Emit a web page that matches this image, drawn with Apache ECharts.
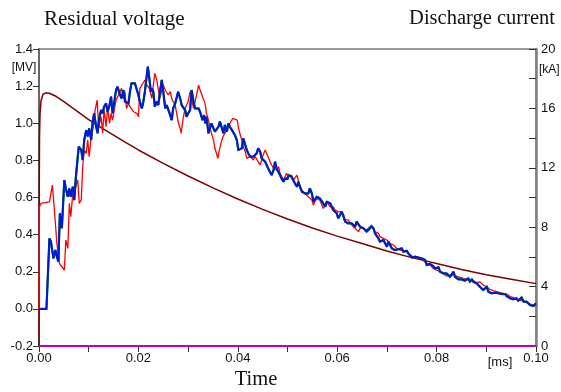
<!DOCTYPE html>
<html>
<head>
<meta charset="utf-8">
<script src="https://cdn.jsdelivr.net/npm/echarts@6/dist/echarts.min.js"></script>
<style>html,body{margin:0;padding:0;background:#fff}#c{width:561px;height:392px}</style>
</head>
<body>
<div id="c"></div>
<script>
// Residual voltage trace 1 (red), [time ms, MV]
var redPts = [[0,0],[0.0001,0.55],[0.0004,0.568],[0.0021,0.577],[0.0024,0.568],[0.0027,0.667],[0.0031,0.532],[0.0036,0.353],[0.0041,0.245],[0.0046,0.227],[0.0051,0.209],[0.0054,0.371],[0.0058,0.326],[0.0061,0.568],[0.0064,0.497],[0.0068,0.622],[0.0073,0.649],[0.0078,0.694],[0.0081,0.568],[0.0085,0.586],[0.0088,0.766],[0.0091,0.856],[0.0095,0.838],[0.0098,0.910],[0.0101,0.820],[0.0105,0.928],[0.0109,0.981],[0.0113,1.071],[0.0117,1.125],[0.0120,0.981],[0.0125,1.035],[0.0128,0.946],[0.0131,1.071],[0.0135,0.981],[0.0138,1.089],[0.0142,0.999],[0.0145,1.053],[0.0148,1.017],[0.0155,1.125],[0.0162,1.161],
[0.0166,1.188],[0.0170,1.134],[0.0173,1.170],[0.0176,1.080],[0.0180,1.107],[0.0183,1.089],[0.0186,1.098],[0.0190,1.062],[0.0193,1.071],[0.0197,1.053],[0.0200,1.035],[0.0203,1.188],[0.0207,1.206],[0.0210,1.197],[0.0213,1.233],[0.0217,1.206],[0.0222,1.188],[0.0227,1.134],[0.0230,1.206],[0.0233,1.269],[0.0237,1.233],[0.0240,1.224],[0.0243,1.134],[0.0247,1.179],[0.0250,1.206],[0.0254,1.179],[0.0257,1.170],[0.0260,1.152],[0.0264,1.170],[0.0267,1.134],[0.0270,1.116],[0.0274,1.098],[0.0277,1.053],[0.0280,1.008],[0.0284,0.972],[0.0286,0.946],[0.0290,1.026],[0.0294,1.080],[0.0297,1.098],[0.0300,1.116],[0.0304,1.170],[0.0307,1.170],[0.0311,1.080],[0.0314,1.071],[0.0317,1.152],[0.0321,1.206],[0.0324,1.180],
[0.0329,1.143],[0.0334,1.107],[0.0337,1.053],[0.0341,1.017],[0.0344,0.981],[0.0347,0.946],[0.0351,0.910],[0.0354,0.865],[0.0358,0.829],[0.0360,0.811],[0.0363,0.856],[0.0366,0.892],[0.0369,0.919],[0.0372,0.937],[0.0376,0.955],[0.0381,0.981],[0.0386,1.009],[0.0390,1.026],[0.0394,1.026],[0.0399,1.017],[0.0401,0.981],[0.0404,0.946],[0.0408,0.910],[0.0411,0.874],[0.0415,0.847],[0.0418,0.811],[0.0421,0.802],[0.0425,0.820],[0.0428,0.811],[0.0431,0.802],[0.0435,0.820],[0.0438,0.811],[0.0441,0.793],[0.0445,0.775],[0.0448,0.802],[0.0451,0.829],[0.0455,0.856],[0.0458,0.847],[0.0461,0.820],[0.0465,0.793],[0.0468,0.775],[0.0472,0.757],[0.0475,0.766],[0.0478,0.748],[0.0482,0.766],[0.0485,0.730],
[0.0488,0.730],[0.0492,0.694],[0.0495,0.712],[0.0498,0.730],[0.0502,0.712],[0.0505,0.703],[0.0508,0.721],[0.0512,0.694],[0.0515,0.703],[0.0519,0.721],[0.0522,0.712],[0.0525,0.658],[0.0529,0.640],[0.0532,0.640],[0.0535,0.622],[0.0539,0.613],[0.0542,0.604],[0.0545,0.595],[0.0549,0.586],[0.0552,0.559],[0.0555,0.577],[0.0559,0.595],[0.0562,0.604],[0.0565,0.586],[0.0569,0.577],[0.0572,0.541],[0.0576,0.559],[0.0579,0.577],[0.0582,0.568],[0.0586,0.550],[0.0589,0.559],[0.0592,0.550],[0.0596,0.532],[0.0599,0.541],[0.0602,0.523],[0.0606,0.532],[0.0609,0.523],[0.0612,0.497],[0.0616,0.479],[0.0619,0.470],[0.0622,0.479],[0.0626,0.470],[0.0629,0.452],[0.0633,0.443],[0.0636,0.434],[0.0639,0.425],[0.0643,0.416],[0.0646,0.434],[0.0649,0.425],[0.0653,0.434],
[0.0656,0.434],[0.0659,0.425],[0.0663,0.425],[0.0666,0.443],[0.0669,0.452],[0.0673,0.434],[0.0676,0.416],[0.0679,0.416],[0.0683,0.407],[0.0686,0.389],[0.0690,0.389],[0.0693,0.380],[0.0696,0.380],[0.0700,0.371],[0.0703,0.362],[0.0706,0.353],[0.0710,0.353],[0.0713,0.344],[0.0716,0.335],[0.0720,0.326],[0.0723,0.317],[0.0726,0.317],[0.0730,0.317],[0.0733,0.313],[0.0736,0.317],[0.0740,0.308],[0.0743,0.299],[0.0747,0.290],[0.0750,0.285],[0.0753,0.281],[0.0757,0.277],[0.0760,0.272],[0.0763,0.267],[0.0767,0.272],[0.0770,0.267],[0.0773,0.260],[0.0777,0.254],[0.0780,0.245],[0.0783,0.236],[0.0787,0.236],[0.0790,0.227],[0.0793,0.218],[0.0797,0.209],[0.0800,0.209],[0.0804,0.206],[0.0807,0.200],[0.0810,0.191],[0.0814,0.188],[0.0817,0.182],[0.0820,0.177],[0.0824,0.173],
[0.0827,0.182],[0.0830,0.177],[0.0834,0.182],[0.0837,0.182],[0.0840,0.177],[0.0844,0.173],[0.0847,0.170],[0.0850,0.170],[0.0854,0.164],[0.0857,0.159],[0.0861,0.159],[0.0864,0.155],[0.0867,0.155],[0.0871,0.159],[0.0874,0.152],[0.0877,0.146],[0.0881,0.141],[0.0884,0.141],[0.0887,0.146],[0.0891,0.137],[0.0894,0.128],[0.0897,0.128],[0.0901,0.119],[0.0904,0.111],[0.0907,0.105],[0.0911,0.102],[0.0914,0.098],[0.0918,0.093],[0.0921,0.093],[0.0924,0.089],[0.0928,0.087],[0.0931,0.084],[0.0934,0.084],[0.0938,0.087],[0.0941,0.080],[0.0944,0.075],[0.0948,0.066],[0.0951,0.057],[0.0954,0.062],[0.0958,0.057],[0.0961,0.051],[0.0964,0.048],[0.0968,0.044],[0.0971,0.048],[0.0975,0.044],[0.0978,0.039],[0.0981,0.033],[0.0985,0.030],[0.0988,0.026],[0.0991,0.030],[0.0995,0.021],[0.1000,0.030]];

// Residual voltage trace 2 (blue; green drawn beneath), [time ms, MV]
var bluePts = [[0,0],[0.0015,0],[0.0021,0.380],[0.0024,0.362],[0.0029,0.272],[0.0033,0.317],[0.0036,0.281],[0.0039,0.254],[0.0042,0.515],[0.0046,0.434],[0.0051,0.694],[0.0054,0.649],[0.0058,0.604],[0.0061,0.649],[0.0064,0.604],[0.0068,0.658],[0.0071,0.586],[0.0074,0.703],[0.0078,0.820],[0.0080,0.874],[0.0085,0.856],[0.0088,0.802],[0.0091,0.910],[0.0095,0.963],[0.0098,0.928],[0.0101,0.972],[0.0105,0.910],[0.0108,1.008],[0.0111,1.053],[0.0115,0.981],[0.0118,0.946],[0.0121,1.026],[0.0125,1.071],[0.0128,1.053],[0.0131,1.089],[0.0135,1.107],[0.0138,1.062],[0.0142,1.098],[0.0145,1.143],[0.0148,1.053],[0.0152,1.125],[0.0155,1.179],[0.0158,1.197],[0.0162,1.161],
[0.0166,1.134],[0.0170,1.179],[0.0173,1.116],[0.0176,1.125],[0.0180,1.107],[0.0183,1.170],[0.0186,1.215],[0.0190,1.224],[0.0193,1.215],[0.0197,1.206],[0.0200,1.152],[0.0203,1.116],[0.0207,1.080],[0.0210,1.116],[0.0213,1.170],[0.0217,1.260],[0.0219,1.305],[0.0222,1.242],[0.0225,1.170],[0.0227,1.188],[0.0230,1.170],[0.0233,1.089],[0.0237,1.116],[0.0240,1.098],[0.0243,1.161],[0.0247,1.233],[0.0250,1.170],[0.0254,1.080],[0.0257,1.098],[0.0260,1.107],[0.0264,1.044],[0.0267,1.017],[0.0270,1.080],[0.0274,1.107],[0.0277,1.116],[0.0280,1.170],[0.0284,1.134],[0.0287,1.098],[0.0290,1.107],[0.0294,1.071],[0.0297,1.035],[0.0300,1.053],[0.0304,1.071],[0.0307,1.179],[0.0311,1.116],[0.0314,1.080],[0.0317,1.071],[0.0321,1.080],[0.0324,1.062],
[0.0327,1.053],[0.0329,1.017],[0.0332,1.044],[0.0335,0.999],[0.0337,1.035],[0.0341,0.946],[0.0344,0.955],[0.0347,0.999],[0.0351,0.973],[0.0354,0.955],[0.0358,0.946],[0.0361,0.981],[0.0364,1.009],[0.0368,0.973],[0.0371,0.946],[0.0374,0.991],[0.0378,0.955],[0.0381,0.999],[0.0384,0.981],[0.0388,0.964],[0.0391,0.955],[0.0394,0.937],[0.0398,0.910],[0.0401,0.856],[0.0404,0.847],[0.0408,0.865],[0.0411,0.919],[0.0415,0.883],[0.0418,0.856],[0.0421,0.838],[0.0425,0.820],[0.0428,0.811],[0.0431,0.820],[0.0435,0.829],[0.0438,0.838],[0.0441,0.865],[0.0445,0.847],[0.0448,0.811],[0.0451,0.820],[0.0455,0.793],[0.0458,0.775],[0.0461,0.757],[0.0465,0.766],[0.0468,0.721],[0.0472,0.748],[0.0475,0.793],[0.0478,0.757],[0.0482,0.748],[0.0485,0.721],[0.0488,0.703],[0.0492,0.685],[0.0495,0.703],[0.0500,0.700],
[0.0502,0.721],[0.0505,0.730],[0.0508,0.712],[0.0512,0.703],[0.0515,0.676],[0.0519,0.658],[0.0522,0.685],[0.0525,0.658],[0.0529,0.631],[0.0532,0.631],[0.0535,0.622],[0.0539,0.631],[0.0542,0.622],[0.0545,0.649],[0.0549,0.622],[0.0552,0.577],[0.0555,0.586],[0.0559,0.604],[0.0562,0.595],[0.0565,0.595],[0.0569,0.586],[0.0572,0.568],[0.0576,0.550],[0.0579,0.577],[0.0582,0.577],[0.0586,0.568],[0.0589,0.550],[0.0592,0.532],[0.0596,0.541],[0.0599,0.515],[0.0602,0.488],[0.0606,0.506],[0.0609,0.523],[0.0612,0.506],[0.0616,0.470],[0.0619,0.479],[0.0622,0.461],[0.0626,0.452],[0.0629,0.461],[0.0633,0.452],[0.0636,0.443],[0.0639,0.470],[0.0643,0.461],[0.0646,0.443],[0.0649,0.452],[0.0653,0.434],
[0.0656,0.425],[0.0659,0.416],[0.0663,0.407],[0.0666,0.434],[0.0669,0.446],[0.0673,0.434],[0.0676,0.407],[0.0679,0.416],[0.0683,0.380],[0.0686,0.362],[0.0690,0.353],[0.0693,0.371],[0.0696,0.362],[0.0700,0.335],[0.0703,0.362],[0.0706,0.353],[0.0710,0.326],[0.0713,0.317],[0.0716,0.317],[0.0720,0.308],[0.0723,0.321],[0.0726,0.317],[0.0730,0.326],[0.0733,0.308],[0.0736,0.317],[0.0740,0.313],[0.0743,0.299],[0.0747,0.290],[0.0750,0.277],[0.0753,0.272],[0.0757,0.281],[0.0760,0.272],[0.0763,0.277],[0.0767,0.267],[0.0770,0.272],[0.0773,0.263],[0.0777,0.263],[0.0780,0.236],[0.0783,0.227],[0.0787,0.242],[0.0790,0.249],[0.0793,0.231],[0.0797,0.218],[0.0800,0.209],[0.0804,0.224],[0.0807,0.200],[0.0810,0.195],[0.0814,0.191],[0.0817,0.188],[0.0820,0.191],[0.0824,0.182],
[0.0827,0.173],[0.0830,0.170],[0.0834,0.200],[0.0837,0.173],[0.0840,0.164],[0.0844,0.159],[0.0847,0.164],[0.0850,0.159],[0.0854,0.155],[0.0857,0.152],[0.0861,0.155],[0.0864,0.164],[0.0867,0.146],[0.0871,0.159],[0.0874,0.146],[0.0877,0.141],[0.0881,0.137],[0.0884,0.128],[0.0887,0.119],[0.0891,0.111],[0.0894,0.102],[0.0897,0.098],[0.0901,0.119],[0.0904,0.093],[0.0907,0.102],[0.0911,0.084],[0.0914,0.093],[0.0918,0.087],[0.0921,0.093],[0.0924,0.084],[0.0928,0.087],[0.0931,0.080],[0.0934,0.084],[0.0938,0.080],[0.0941,0.069],[0.0944,0.062],[0.0948,0.057],[0.0951,0.062],[0.0954,0.051],[0.0958,0.048],[0.0961,0.057],[0.0964,0.044],[0.0968,0.048],[0.0971,0.062],[0.0975,0.039],[0.0978,0.033],[0.0981,0.039],[0.0985,0.030],[0.0988,0.021],[0.0991,0.030],[0.0995,0.015],[0.1000,0.030]];

// Discharge current (dark red, right axis), [time ms, kA]
var currentPts = [[0,0],[0.00005,10.5],[0.0001,14.0],[0.0002,15.6],[0.0004,16.5],[0.0008,16.95],[0.0014,17.05],[0.0022,17.0],[0.0035,16.8],[0.005,16.45],[0.0075,15.85],[0.010,15.25],[0.0125,14.7],[0.015,14.2],[0.0175,13.7],[0.020,13.2],[0.025,12.3],[0.030,11.45],[0.035,10.65],[0.040,9.9],[0.045,9.2],[0.050,8.55],[0.055,7.95],[0.060,7.4],[0.065,6.9],[0.070,6.4],[0.075,5.95],[0.080,5.55],[0.085,5.15],[0.090,4.8],[0.095,4.5],[0.100,4.2]];

// Baseline trace (magenta), [time ms, MV]
var basePts = [[0,-0.2],[0.1,-0.2]];

var xTicks = {min: 0, max: 0.1, interval: 0.02};
var yLeftTicks = {min: -0.2, max: 1.4, interval: 0.2};
var yRightTicks = {min: 0, max: 20, interval: 4};

var chart = echarts.init(document.getElementById('c'), null, {renderer: 'canvas'});
var sans = '"Liberation Sans", Arial, sans-serif';
var serif = '"Liberation Serif", "Times New Roman", serif';
var tickColor = '#333';

chart.setOption({
  animation: false,
  backgroundColor: '#fff',
  grid: {left: 39, right: 25, top: 49, bottom: 46, show: true, borderColor: '#7a7a7a', borderWidth: 1.5, backgroundColor: 'transparent'},
  xAxis: {
    type: 'value', min: xTicks.min, max: xTicks.max, interval: xTicks.interval,
    axisLine: {show: true, onZero: false, lineStyle: {color: '#7a7a7a', width: 1.5}},
    axisTick: {show: true, length: 6, lineStyle: {color: tickColor, width: 1}},
    minorTick: {show: true, splitNumber: 2, length: 6, lineStyle: {color: tickColor, width: 1}},
    splitLine: {show: false},
    axisLabel: {fontSize: 13, fontFamily: sans, color: '#111', margin: 6, formatter: function (v) { return v.toFixed(2); }}
  },
  yAxis: [{
    type: 'value', position: 'left', min: yLeftTicks.min, max: yLeftTicks.max, interval: yLeftTicks.interval,
    axisLine: {show: true, onZero: false, lineStyle: {color: '#555', width: 1.5}},
    axisTick: {show: true, length: 6, lineStyle: {color: tickColor, width: 1}},
    splitLine: {show: false},
    axisLabel: {fontSize: 13, fontFamily: sans, color: '#111', margin: 6, formatter: function (v) { return v.toFixed(1); }}
  }, {
    type: 'value', position: 'right', min: yRightTicks.min, max: yRightTicks.max, interval: yRightTicks.interval,
    axisLine: {show: true, onZero: false, lineStyle: {color: '#7f7f7f', width: 2.5}},
    axisTick: {show: true, inside: true, length: 7, lineStyle: {color: tickColor, width: 1}},
    minorTick: {show: true, splitNumber: 2, length: 7, lineStyle: {color: tickColor, width: 1}},
    splitLine: {show: false},
    axisLabel: {fontSize: 13, fontFamily: sans, color: '#111', margin: 5, formatter: function (v) { return String(Math.round(v)); }}
  }],
  series: [
    {type: 'line', name: 'Discharge current', yAxisIndex: 1, data: currentPts, showSymbol: false, smooth: false,
     lineStyle: {color: '#800000', width: 1.5}, itemStyle: {color: '#800000'}, z: 2},
    {type: 'line', name: 'base', yAxisIndex: 0, data: basePts, showSymbol: false,
     lineStyle: {color: '#c000c0', width: 2}, itemStyle: {color: '#c000c0'}, z: 3},
    {type: 'line', name: 'Residual voltage 1', yAxisIndex: 0, data: redPts, showSymbol: false,
     lineStyle: {color: '#ff0000', width: 1.3}, itemStyle: {color: '#ff0000'}, z: 4},
    {type: 'line', name: 'Residual voltage 2g', yAxisIndex: 0, data: bluePts, showSymbol: false,
     lineStyle: {color: '#008a00', width: 2.2, join: 'miter', miterLimit: 2}, itemStyle: {color: '#008a00'}, z: 5},
    {type: 'line', name: 'Residual voltage 2', yAxisIndex: 0, data: bluePts, showSymbol: false,
     lineStyle: {color: '#0018d8', width: 2, join: 'bevel'}, itemStyle: {color: '#0018d8'}, z: 6}
  ],
  graphic: [
    {type: 'text', style: {x: 44, y: 19, text: 'Residual voltage', font: '21px ' + serif, fill: '#111', textAlign: 'left', textVerticalAlign: 'middle'}},
    {type: 'text', style: {x: 555, y: 19, text: 'Discharge current', font: '20.5px ' + serif, fill: '#111', textAlign: 'right', textVerticalAlign: 'middle'}},
    {type: 'text', style: {x: 256, y: 380, text: 'Time', font: '20.5px ' + serif, fill: '#111', textAlign: 'center', textVerticalAlign: 'middle'}},
    {type: 'text', style: {x: 24, y: 68, text: '[MV]', font: '12px ' + sans, fill: '#111', textAlign: 'center', textVerticalAlign: 'middle'}},
    {type: 'text', style: {x: 539, y: 70, text: '[kA]', font: '12px ' + sans, fill: '#111', textAlign: 'left', textVerticalAlign: 'middle'}},
    {type: 'text', style: {x: 500, y: 362, text: '[ms]', font: '13px ' + sans, fill: '#111', textAlign: 'center', textVerticalAlign: 'middle'}}
  ]
});
</script>
</body>
</html>
